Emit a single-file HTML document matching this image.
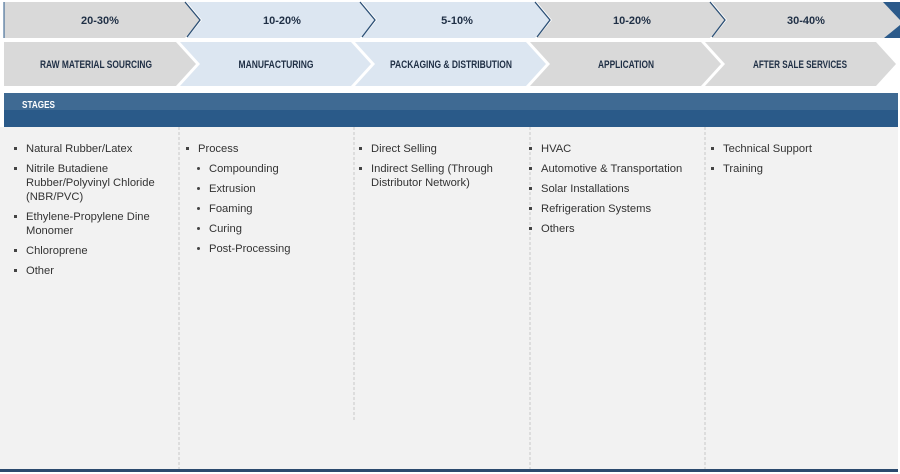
<!DOCTYPE html>
<html><head><meta charset="utf-8"><style>
body{margin:0;width:900px;height:474px;background:#fff;position:relative;overflow:hidden;font-family:"Liberation Sans Narrow","Liberation Sans",sans-serif;}
svg{position:absolute;left:0;top:0}
.col{position:absolute;top:142px;font-size:11.2px;color:#333;line-height:14px;}
.col ul{margin:0;padding:0;list-style:none}
.col li{position:relative;padding-left:12px;margin-bottom:6px}
.col li:before{content:"";position:absolute;left:0;top:5px;width:3px;height:3px;background:#444}
.col li.sub{margin-left:11px}
.col li.sub:before{border-radius:50%}
</style></head><body>
<svg width="900" height="474">
<rect x="0" y="127" width="898" height="343" fill="#f2f2f2"/>
<g>
<polygon points="4,2 185,2 200,20 185,38 4,38" fill="#d9d9d9"/>
<polygon points="187,2 360,2 375,20 360,38 187,38 202,20" fill="#dce6f1"/>
<polygon points="362,2 535,2 550,20 535,38 362,38 377,20" fill="#dce6f1"/>
<polygon points="537,2 710,2 725,20 710,38 537,38 552,20" fill="#d9d9d9"/>
<polygon points="712,2 900,2 900,38 712,38 727,20" fill="#d9d9d9"/>
<polyline points="185,2 200,20 187,37" fill="none" stroke="#2b4f75" stroke-width="1.3"/>
<polyline points="360,2 375,20 362,37" fill="none" stroke="#2b4f75" stroke-width="1.3"/>
<polyline points="535,2 550,20 537,37" fill="none" stroke="#2b4f75" stroke-width="1.3"/>
<polyline points="710,2 725,20 712,37" fill="none" stroke="#2b4f75" stroke-width="1.3"/>
<polygon points="883,2 900,2 900,20" fill="#2b5a8a"/>
<polygon points="900,25 900,38 884,38" fill="#2b5a8a"/>
<line x1="4" y1="2" x2="4" y2="38" stroke="#2b5a8a" stroke-width="1"/>
</g>
<g font-weight="bold" font-size="11" fill="#1f2f45" text-anchor="middle">
<text x="100" y="24">20-30%</text>
<text x="282" y="24">10-20%</text>
<text x="457" y="24">5-10%</text>
<text x="632" y="24">10-20%</text>
<text x="806" y="24">30-40%</text>
</g>
<g>
<polygon points="4,42 176,42 196,64 176,86 4,86" fill="#d9d9d9"/>
<polygon points="180,42 351,42 371,64 351,86 180,86 200,64" fill="#dce6f1"/>
<polygon points="355,42 526,42 546,64 526,86 355,86 375,64" fill="#dce6f1"/>
<polygon points="530,42 701,42 721,64 701,86 530,86 550,64" fill="#d9d9d9"/>
<polygon points="705,42 876,42 896,64 876,86 705,86 725,64" fill="#d9d9d9"/>
</g>
<g font-weight="bold" font-size="11" fill="#1f2f45" text-anchor="middle">
<text x="96" y="68" textLength="112" lengthAdjust="spacingAndGlyphs">RAW MATERIAL SOURCING</text>
<text x="276" y="68" textLength="75" lengthAdjust="spacingAndGlyphs">MANUFACTURING</text>
<text x="451" y="68" textLength="122" lengthAdjust="spacingAndGlyphs">PACKAGING &amp; DISTRIBUTION</text>
<text x="626" y="68" textLength="56" lengthAdjust="spacingAndGlyphs">APPLICATION</text>
<text x="800" y="68" textLength="94" lengthAdjust="spacingAndGlyphs">AFTER SALE SERVICES</text>
</g>
<rect x="4" y="93" width="894" height="17" fill="#3f6a93"/>
<rect x="4" y="110" width="894" height="17" fill="#2a5a89"/>
<text x="22" y="108" font-size="10" font-weight="bold" fill="#fff" textLength="33" lengthAdjust="spacingAndGlyphs">STAGES</text>
<g stroke="#c8c8c8" stroke-dasharray="3,2" stroke-width="1">
<line x1="179" y1="127" x2="179" y2="470"/>
<line x1="354" y1="127" x2="354" y2="420"/>
<line x1="530" y1="127" x2="530" y2="470"/>
<line x1="705" y1="127" x2="705" y2="470"/>
</g>
<rect x="0" y="469" width="898" height="3" fill="#2b4a6e"/>
</svg>
<div class="col" style="left:14px;width:160px"><ul>
<li>Natural Rubber/Latex</li><li>Nitrile Butadiene Rubber/Polyvinyl Chloride (NBR/PVC)</li><li>Ethylene-Propylene Dine Monomer</li><li>Chloroprene</li><li>Other</li></ul></div>
<div class="col" style="left:186px;width:165px"><ul>
<li>Process</li><li class="sub">Compounding</li><li class="sub">Extrusion</li><li class="sub">Foaming</li><li class="sub">Curing</li><li class="sub">Post-Processing</li></ul></div>
<div class="col" style="left:359px;width:165px"><ul>
<li>Direct Selling</li><li>Indirect Selling (Through Distributor Network)</li></ul></div>
<div class="col" style="left:529px;width:170px"><ul>
<li>HVAC</li><li>Automotive &amp; Transportation</li><li>Solar Installations</li><li>Refrigeration Systems</li><li>Others</li></ul></div>
<div class="col" style="left:711px;width:170px"><ul>
<li>Technical Support</li><li>Training</li></ul></div>
</body></html>
